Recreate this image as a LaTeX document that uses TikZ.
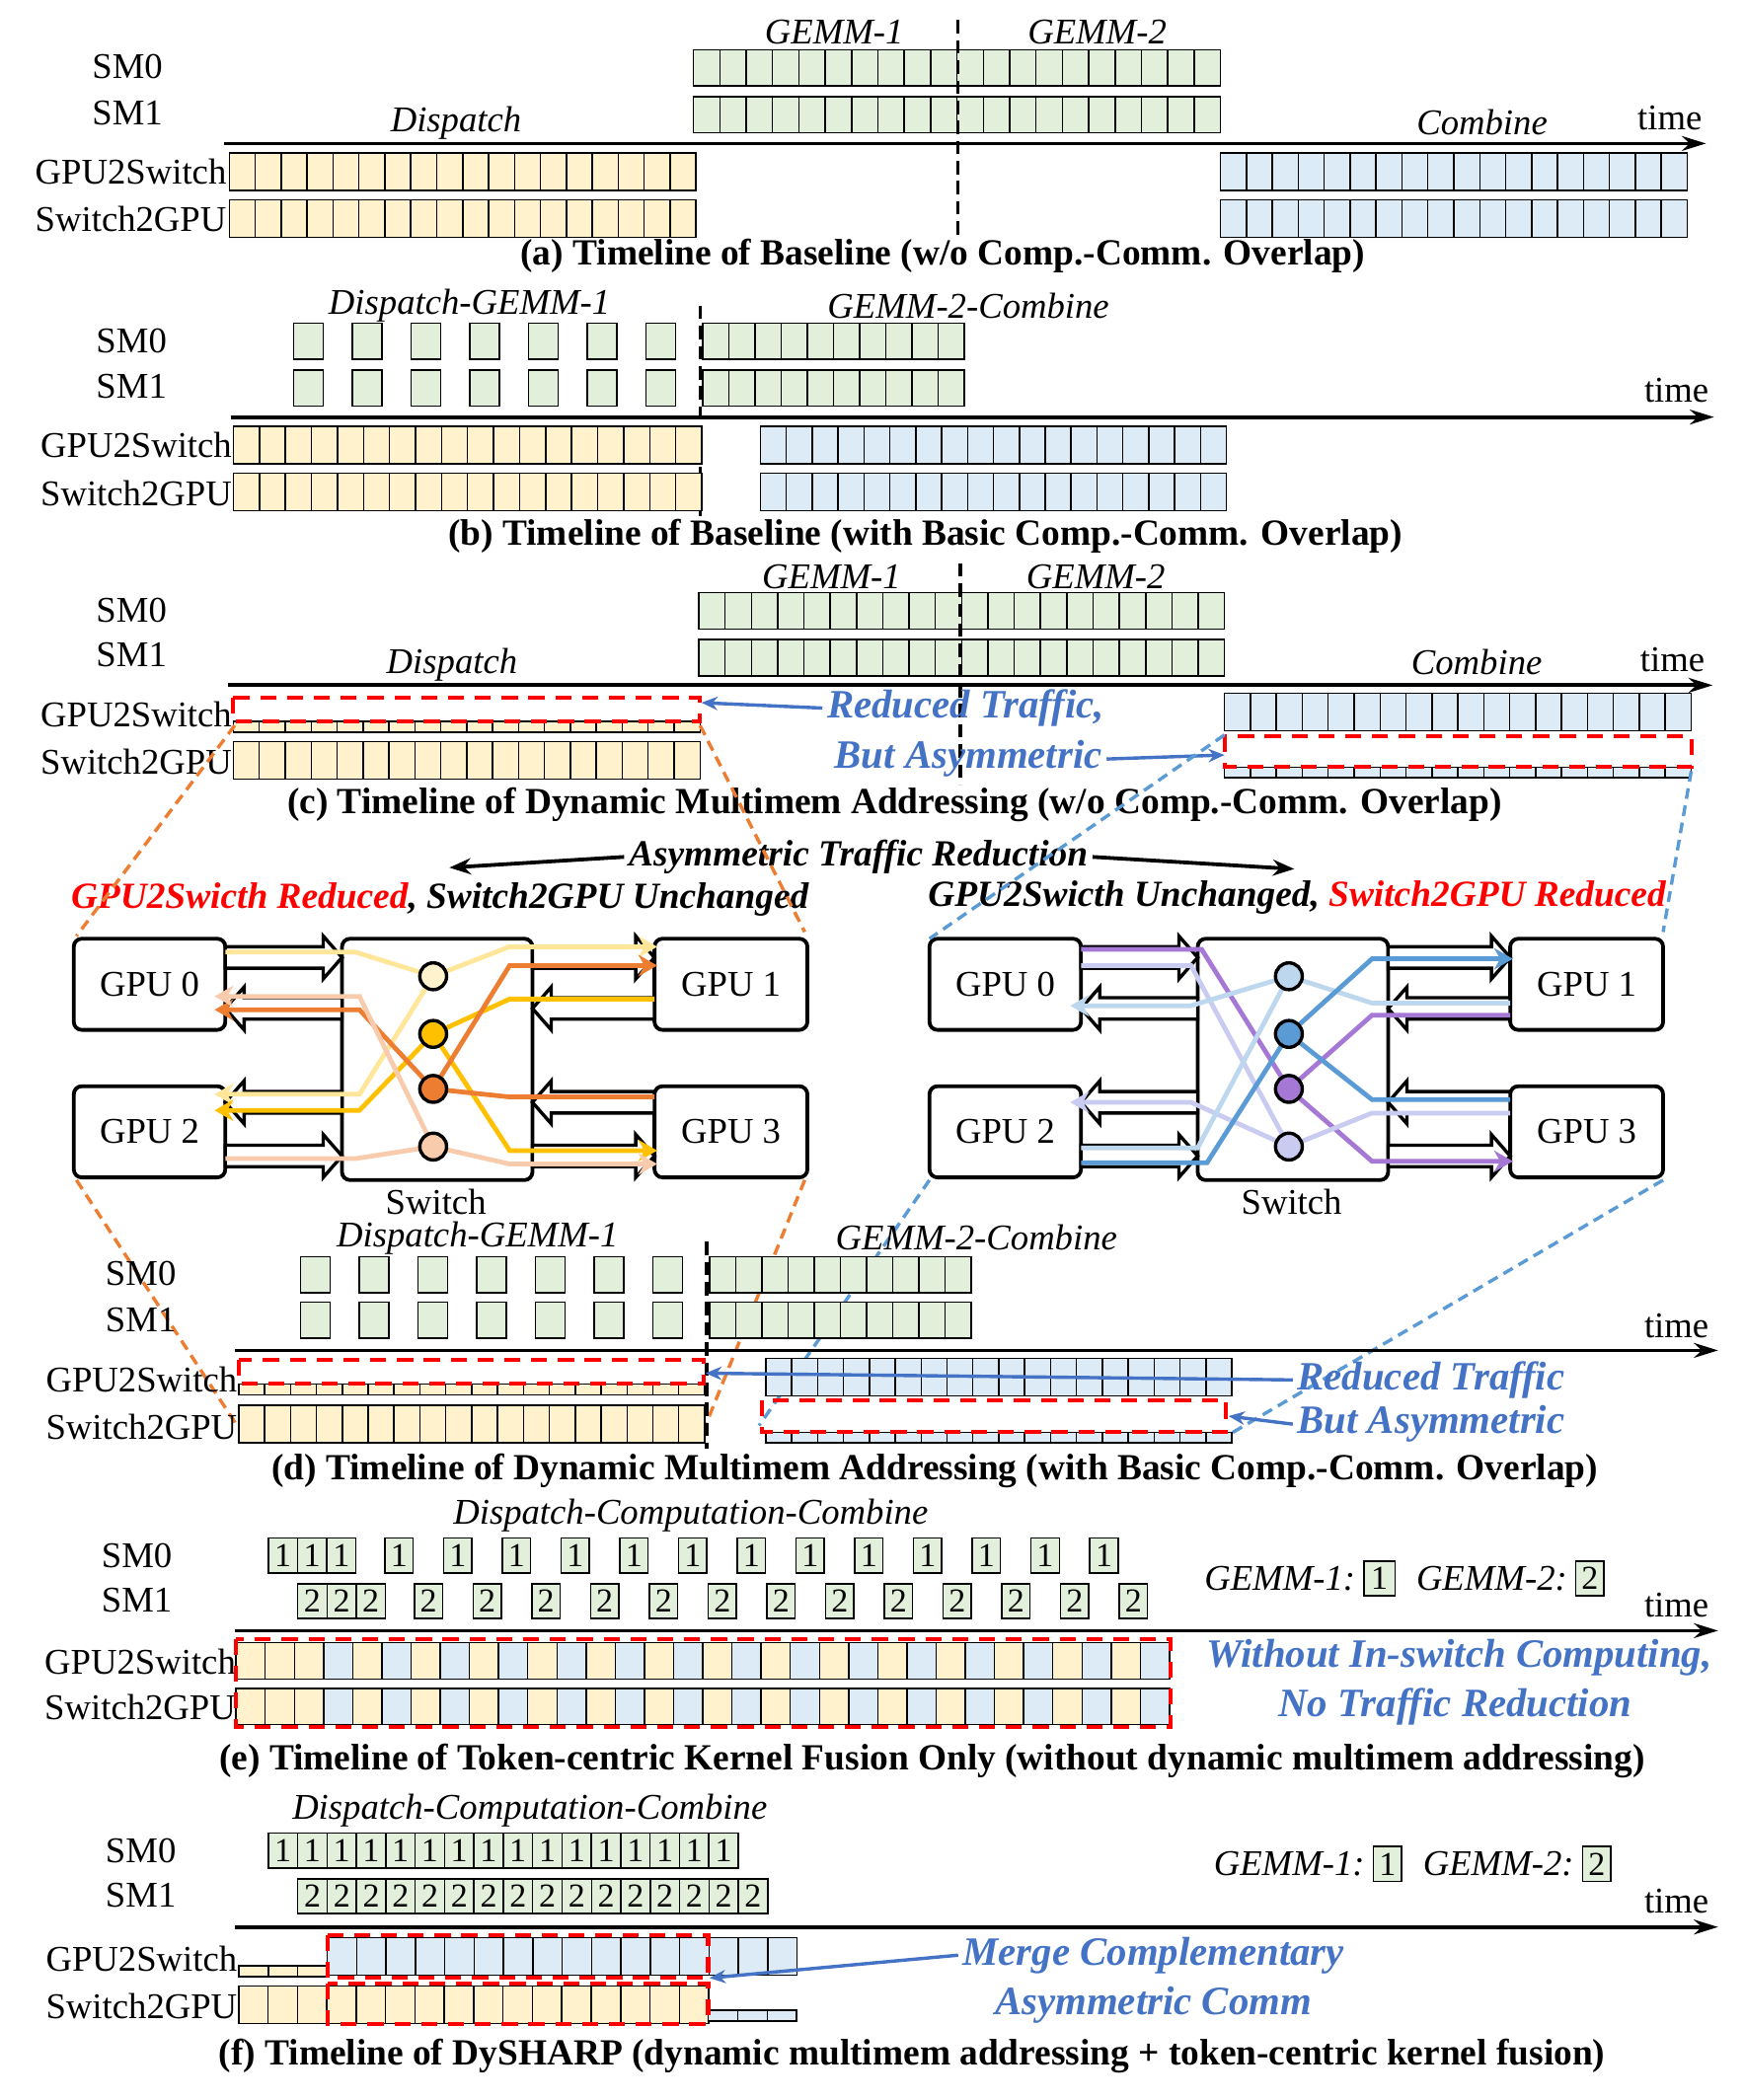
\documentclass[tikz,border=0pt]{standalone}
\usepackage{fontspec}
\setmainfont{Liberation Serif}
\usetikzlibrary{arrows.meta}
\definecolor{cy}{HTML}{FFF2CC}
\definecolor{cg}{HTML}{E2EFDA}
\definecolor{cb}{HTML}{DDEBF7}
\definecolor{tb}{HTML}{4472C4}
\definecolor{od}{HTML}{ED7D31}
\definecolor{bd}{HTML}{5B9BD5}
\definecolor{lyel}{HTML}{FFE699}
\definecolor{gold}{HTML}{FFC000}
\definecolor{peach}{HTML}{F8CBAD}
\definecolor{purp}{HTML}{A678D6}
\definecolor{lav}{HTML}{C9CBF0}
\definecolor{lblue}{HTML}{BDD7EE}
\tikzset{
 cell/.style={draw=black,line width=1.1pt},
 lab/.style={font=\fontsize{27}{30}\selectfont},
 rlab/.style={font=\fontsize{27}{30}\selectfont,anchor=east,inner xsep=1pt},
 itl/.style={font=\fontsize{27}{30}\selectfont\itshape},
 captxt/.style={font=\fontsize{27.5}{30}\selectfont\bfseries},
 btxt/.style={font=\fontsize{30}{34}\selectfont\bfseries\itshape,text=tb},
 tl/.style={line width=2.8pt,-{Stealth[length=18pt,width=11pt]}},
 vdash/.style={line width=2.5pt,dash pattern=on 10pt off 5pt},
 rdash/.style={draw=red,line width=3pt,dash pattern=on 12pt off 8pt},
 barr/.style={draw=tb,line width=2.5pt,-{Stealth[length=12pt,width=10pt]}},
 odash/.style={draw=od,line width=2.5pt,dash pattern=on 8pt off 5pt},
 bdash/.style={draw=bd,line width=2.5pt,dash pattern=on 8pt off 5pt},
 harr/.style={draw=black,line width=2.5pt,fill=white},
 gbox/.style={draw=black,line width=2.8pt,rounded corners=6pt,fill=white},
 fl/.style={line width=3.5pt},
 fla/.style={line width=3.5pt,-{Stealth[length=14pt,width=16pt]}},
 circ/.style={draw=black,line width=2.5pt,circle,minimum size=20pt,inner sep=0pt},
 gtxt/.style={font=\fontsize{27}{30}\selectfont},
 ntxt/.style={font=\fontsize{25}{26}\selectfont},
 head/.style={font=\fontsize{27.5}{31}\selectfont\bfseries\itshape},
}
\newcommand{\cells}[6]{\foreach \i in {1,...,#3}{\draw[cell,fill=#6] ({#1+(\i-1)*#4},#2) rectangle ++(#4,#5);}}
\newcommand{\ncells}[7]{\foreach \i in {1,...,#3}{\draw[cell,fill=#6] ({#1+(\i-1)*#4},#2) rectangle ++(#4,#5) node[midway,ntxt]{#7};}}
\newcommand{\rar}[3]{\draw[harr] (#1,#3-8) -- (#2-14,#3-8) -- (#2-14,#3-16) -- (#2,#3) -- (#2-14,#3+16) -- (#2-14,#3+8) -- (#1,#3+8) -- cycle;}
\newcommand{\lar}[3]{\draw[harr] (#2,#3-8) -- (#1+14,#3-8) -- (#1+14,#3-16) -- (#1,#3) -- (#1+14,#3+16) -- (#1+14,#3+8) -- (#2,#3+8) -- cycle;}
\begin{document}
\begin{tikzpicture}[x=1pt,y=-1pt]
\useasboundingbox[fill=white] (0,0) rectangle (1300,1566);
% ---------- (a)
\node[lab] (a0) at (95,50) {SM0};
\node[lab] (a1) at (95,84) {SM1};
\cells{517}{37}{20}{19.65}{27}{cg}
\cells{517}{72}{20}{19.65}{27}{cg}
\node[itl] at (622,24) {GEMM-1};
\node[itl] at (818,24) {GEMM-2};
\draw[tl] (167,107) -- (1272,107);
\node[lab] at (1245,88) {time};
\node[itl] at (340,92) {Dispatch};
\node[itl] at (1105,91) {Combine};
\draw[vdash] (714,15) -- (714,178);
\node[rlab] at (170,128) {GPU2Switch};
\node[rlab] at (170,163) {Switch2GPU};
\cells{171}{114}{18}{19.33}{28}{cy}
\cells{171}{149}{18}{19.33}{28}{cy}
\cells{910}{114}{18}{19.33}{28}{cb}
\cells{910}{149}{18}{19.33}{28}{cb}
\node[captxt] at (703,191) {(a) Timeline of Baseline (w/o Comp.-Comm. Overlap)};
% ---------- (b)
\node[lab] at (98,254) {SM0};
\node[lab] at (98,288) {SM1};
\foreach \k in {0,...,6}{\draw[cell,fill=cg] ({219+\k*43.8},241) rectangle ++(22,27);
 \draw[cell,fill=cg] ({219+\k*43.8},276) rectangle ++(22,27);}
\cells{524}{241}{10}{19.5}{27}{cg}
\cells{524}{276}{10}{19.5}{27}{cg}
\node[itl] at (350,228) {Dispatch-GEMM-1};
\node[itl] at (722,228) {GEMM-2-Combine};
\draw[tl] (172,311) -- (1278,311);
\node[lab] at (1250,291) {time};
\draw[vdash] (522,228) -- (522,385);
\node[rlab] at (174,332) {GPU2Switch};
\node[rlab] at (174,368) {Switch2GPU};
\cells{174}{318}{18}{19.4}{28}{cy}
\cells{174}{353}{18}{19.4}{28}{cy}
\cells{567}{318}{18}{19.3}{28}{cb}
\cells{567}{353}{18}{19.3}{28}{cb}
\node[captxt] at (690,400) {(b) Timeline of Baseline (with Basic Comp.-Comm. Overlap)};
% ---------- (c)
\node[lab] at (98,455) {SM0};
\node[lab] at (98,488) {SM1};
\cells{521}{442}{20}{19.6}{27}{cg}
\cells{521}{477}{20}{19.6}{27}{cg}
\node[itl] at (620,430) {GEMM-1};
\node[itl] at (817,430) {GEMM-2};
\draw[vdash] (716,420) -- (716,585);
\draw[tl] (170,511) -- (1277,511);
\node[lab] at (1247,492) {time};
\node[itl] at (337,496) {Dispatch};
\node[itl] at (1101,494) {Combine};
\node[rlab] at (174,533) {GPU2Switch};
\node[rlab] at (174,568) {Switch2GPU};
\cells{174}{538}{18}{19.33}{8}{cy}
\draw[rdash] (174,520) rectangle (522,538);
\cells{174}{553}{18}{19.33}{28}{cy}
\cells{913}{517}{18}{19.33}{28}{cb}
\cells{913}{572}{18}{19.33}{8}{cb}
\draw[rdash] (913,549) rectangle (1261,572);
\node[btxt] (rt1) at (720,528) {Reduced Traffic,};
\node[btxt] (rt2) at (722,566) {But Asymmetric};
\coordinate (ra) at (523,524);
\coordinate (rb) at (913,563);
\draw[barr] (rt1.west) -- (ra);
\draw[barr] (rt2.east) -- (rb);
\node[captxt] at (667,600) {(c) Timeline of Dynamic Multimem Addressing (w/o Comp.-Comm. Overlap)};
% ---------- middle headings
\node[head] (atr) at (640,639) {Asymmetric Traffic Reduction};
\coordinate (al) at (335,647);
\coordinate (arr) at (965,648);
\draw[line width=2.8pt,-{Stealth[length=16pt,width=12pt]}] (atr.west) -- (al);
\draw[line width=2.8pt,-{Stealth[length=16pt,width=12pt]}] (atr.east) -- (arr);
\node[head] at (328,671) {\textcolor{red}{GPU2Swicth Reduced}, Switch2GPU Unchanged};
\node[head] at (967,669) {GPU2Swicth Unchanged, \textcolor{red}{Switch2GPU Reduced}};
% ---------- switch diagrams
\foreach \dx in {0,638}{
\begin{scope}[xshift=\dx pt]
\draw[gbox] (255,700) rectangle (397,880);
\node[gtxt] at (325,896) {Switch};
\draw[gbox] (55,700) rectangle (168,768) node[midway,gtxt]{GPU 0};
\draw[gbox] (488,700) rectangle (602,768) node[midway,gtxt]{GPU 1};
\draw[gbox] (55,810) rectangle (168,878) node[midway,gtxt]{GPU 2};
\draw[gbox] (488,810) rectangle (602,878) node[midway,gtxt]{GPU 3};
\rar{168}{255}{714}
\lar{168}{255}{752}
\lar{168}{255}{822}
\rar{168}{255}{862}
\rar{397}{488}{714}
\lar{397}{488}{752}
\lar{397}{488}{822}
\rar{397}{488}{862}
\end{scope}}
% left flows
\coordinate (L1) at (323,728); \coordinate (L2) at (323,771);
\coordinate (L3) at (323,812); \coordinate (L4) at (323,855);
\draw[fl,lyel] (168,710) -- (265,710) -- (L1);
\draw[fla,lyel] (L1) -- (380,706) -- (490,706);
\draw[fla,lyel] (L1) -- (268,816) -- (160,816);
\draw[fl,gold] (488,745) -- (380,745) -- (L2);
\draw[fla,gold] (L2) -- (268,828) -- (160,828);
\draw[fla,gold] (L2) -- (380,858) -- (490,858);
\draw[fl,od] (488,818) -- (380,818) -- (L3);
\draw[fla,od] (L3) -- (268,753) -- (160,753);
\draw[fla,od] (L3) -- (380,720) -- (490,720);
\draw[fl,peach] (168,864) -- (265,864) -- (L4);
\draw[fla,peach] (L4) -- (268,743) -- (160,743);
\draw[fla,peach] (L4) -- (380,868) -- (490,868);
\node[circ,fill=cy] at (L1) {};
\node[circ,fill=gold] at (L2) {};
\node[circ,fill=od] at (L3) {};
\node[circ,fill=peach] at (L4) {};
% right flows
\begin{scope}[xshift=638pt]
\coordinate (R1) at (323,728); \coordinate (R2) at (323,771);
\coordinate (R3) at (323,812); \coordinate (R4) at (323,855);
\draw[fl,purp] (168,708) -- (258,708) -- (R3);
\draw[fl,purp] (488,757) -- (385,757) -- (R3);
\draw[fla,purp] (R3) -- (385,866) -- (490,866);
\draw[fl,lav] (168,720) -- (250,720) -- (R4);
\draw[fl,lav] (488,830) -- (385,830) -- (R4);
\draw[fla,lav] (R4) -- (250,822) -- (160,822);
\draw[fl,lblue] (488,748) -- (385,748) -- (R1);
\draw[fl,lblue] (168,856) -- (255,856) -- (R1);
\draw[fla,lblue] (R1) -- (250,750) -- (160,750);
\draw[fl,bd] (168,867) -- (262,867) -- (R2);
\draw[fl,bd] (488,820) -- (385,820) -- (R2);
\draw[fla,bd] (R2) -- (385,715) -- (490,715);
\node[circ,fill=lblue] at (R1) {};
\node[circ,fill=bd] at (R2) {};
\node[circ,fill=purp] at (R3) {};
\node[circ,fill=lav] at (R4) {};
\end{scope}
% dashed connectors
\draw[odash] (175,541) -- (57,698);
\draw[odash] (522,541) -- (600,695);
\draw[odash] (57,880) -- (176,1062);
\draw[odash] (600,880) -- (524,1068);
\draw[bdash] (913,548) -- (693,700);
\draw[bdash] (1261,575) -- (1240,695);
\draw[bdash] (693,880) -- (566,1063);
\draw[bdash] (1240,880) -- (916,1070);
% ---------- (d)
\node[lab] at (105,950) {SM0};
\node[lab] at (105,984) {SM1};
\foreach \k in {0,...,6}{\draw[cell,fill=cg] ({224+\k*43.8},937) rectangle ++(22,27);
 \draw[cell,fill=cg] ({224+\k*43.8},971) rectangle ++(22,27);}
\cells{529}{937}{10}{19.5}{27}{cg}
\cells{529}{971}{10}{19.5}{27}{cg}
\node[itl] at (356,923) {Dispatch-GEMM-1};
\node[itl] at (728,923) {GEMM-2-Combine};
\draw[vdash] (527,926) -- (527,1080);
\draw[tl] (175,1007) -- (1281,1007);
\node[lab] at (1250,989) {time};
\node[rlab] at (178,1029) {GPU2Switch};
\node[rlab] at (178,1064) {Switch2GPU};
\cells{178}{1032}{18}{19.3}{8}{cy}
\draw[rdash] (178,1014) rectangle (525,1032);
\cells{178}{1048}{18}{19.3}{28}{cy}
\cells{571}{1013}{18}{19.3}{28}{cb}
\cells{571}{1068}{18}{19.3}{8}{cb}
\draw[rdash] (568,1044) rectangle (914,1068);
\node[btxt] (dt1) at (1067,1029) {Reduced Traffic};
\node[btxt] (dt2) at (1067,1062) {But Asymmetric};
\coordinate (da) at (526,1024);
\coordinate (db) at (916,1056);
\draw[barr] (dt1.west) -- (da);
\draw[barr] (dt2.west) -- (db);
\node[captxt] at (697,1097) {(d) Timeline of Dynamic Multimem Addressing (with Basic Comp.-Comm. Overlap)};
% ---------- (e)
\node[itl] at (515,1130) {Dispatch-Computation-Combine};
\node[lab] at (102,1160) {SM0};
\node[lab] at (102,1193) {SM1};
\ncells{200}{1147}{3}{21.8}{26}{cg}{1}
\foreach \k in {0,...,12}{\draw[cell,fill=cg] ({287+\k*43.8},1147) rectangle ++(21,26) node[midway,ntxt]{1};}
\ncells{222}{1181}{3}{21.8}{26}{cg}{2}
\foreach \k in {0,...,12}{\draw[cell,fill=cg] ({309+\k*43.8},1181) rectangle ++(21,26) node[midway,ntxt]{2};}
\node[itl,anchor=east] at (1014,1177) {GEMM-1:};
\draw[cell,fill=cg] (1017,1164) rectangle (1040,1190) node[midway,ntxt]{1};
\node[itl,anchor=east] at (1172,1177) {GEMM-2:};
\draw[cell,fill=cg] (1175,1164) rectangle (1196,1190) node[midway,ntxt]{2};
\draw[tl] (175,1216) -- (1281,1216);
\node[lab] at (1250,1197) {time};
\node[rlab] at (177,1239) {GPU2Switch};
\node[rlab] at (177,1273) {Switch2GPU};
\foreach \i in {1,...,32}{
 \pgfmathsetmacro{\myc}{(\i<4 || mod(\i,2)==1) ? 1 : 0}
 \ifdim\myc pt>0.5pt \def\fc{cy}\else\def\fc{cb}\fi
 \draw[cell,fill=\fc] ({176+(\i-1)*21.75},1225) rectangle ++(21.75,27);
 \draw[cell,fill=\fc] ({176+(\i-1)*21.75},1259) rectangle ++(21.75,27);}
\draw[rdash] (176,1222) rectangle (873,1288);
\node[btxt] at (1088,1236) {Without In-switch Computing,};
\node[btxt] at (1085,1273) {No Traffic Reduction};
\node[captxt] at (695,1313) {(e) Timeline of Token-centric Kernel Fusion Only (without dynamic multimem addressing)};
% ---------- (f)
\node[itl] at (395,1350) {Dispatch-Computation-Combine};
\node[lab] at (105,1380) {SM0};
\node[lab] at (105,1413) {SM1};
\ncells{200}{1367}{16}{21.9}{26}{cg}{1}
\ncells{222}{1401}{16}{21.9}{26}{cg}{2}
\node[itl,anchor=east] at (1021,1390) {GEMM-1:};
\draw[cell,fill=cg] (1024,1377) rectangle (1045,1403) node[midway,ntxt]{1};
\node[itl,anchor=east] at (1177,1390) {GEMM-2:};
\draw[cell,fill=cg] (1180,1377) rectangle (1201,1403) node[midway,ntxt]{2};
\draw[tl] (175,1437) -- (1281,1437);
\node[lab] at (1250,1418) {time};
\node[rlab] at (178,1461) {GPU2Switch};
\node[rlab] at (178,1496) {Switch2GPU};
\cells{178}{1466}{3}{22}{8}{cy}
\cells{244}{1445}{16}{21.9}{28}{cb}
\draw[rdash] (244,1443) rectangle (528,1475);
\cells{178}{1481}{16}{21.9}{28}{cy}
\cells{528}{1499}{3}{22}{8}{cb}
\draw[rdash] (244,1479) rectangle (528,1509);
\node[btxt] (ft1) at (860,1458) {Merge Complementary};
\node[btxt] at (860,1495) {Asymmetric Comm};
\coordinate (fa) at (529,1475);
\draw[barr] (ft1.west) -- (fa);
\node[captxt] at (680,1533) {(f) Timeline of DySHARP (dynamic multimem addressing + token-centric kernel fusion)};
\end{tikzpicture}
\end{document}
